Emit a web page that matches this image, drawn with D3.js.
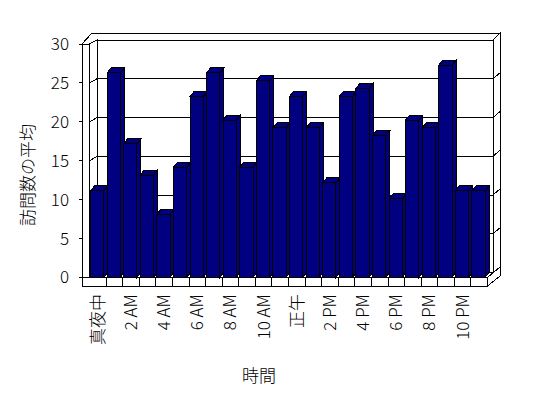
<!DOCTYPE html>
<html>
<head>
<meta charset="UTF-8">
<script src="https://d3js.org/d3.v7.min.js"></script>
<style>
  body { margin: 0; background: #fff; }
  text { font-family: "Noto Sans CJK JP", "Noto Sans", sans-serif; font-weight: 300; fill: #000; }
  path { shape-rendering: crispEdges; }
</style>
</head>
<body>
<svg width="548" height="398"></svg>
<script>
// hours of the day (every other one gets a label)
const categories = ["真夜中", "1 AM", "2 AM", "3 AM", "4 AM", "5 AM", "6 AM", "7 AM", "8 AM", "9 AM", "10 AM", "11 AM",
  "正午", "1 PM", "2 PM", "3 PM", "4 PM", "5 PM", "6 PM", "7 PM", "8 PM", "9 PM", "10 PM", "11 PM"];
const values = [11, 26, 17, 13, 8, 14, 23, 26, 20, 14, 25, 19, 23, 19, 12, 23, 24, 18, 10, 20, 19, 27, 11, 11];
const yTicks = [0, 5, 10, 15, 20, 25, 30];
const yTitle = "訪問数の平均";
const xTitle = "時間";

const svg = d3.select("svg");

// box geometry (3d walls)
const leftOuter = 82, leftInner = 89.5, backLeft = 97, backRight = 493, outerRight = 500;
const topOuter = 33, floorBottom = 286;

const x = d3.scaleBand().domain(categories).range([89.5, 487.5]);
const yFront = d3.scaleLinear().domain([0, 30]).range([277.5, 44]);
const yBack = d3.scaleLinear().domain([0, 30]).range([272.5, 40]);
const yBar = d3.scaleLinear().domain([0, 30]).range([277.3, 41.5]);

const poly = pts => "M" + pts.map(p => p.join(",")).join("L") + "Z";
const line = d3.line();

const walls = svg.append("g").attr("fill", "#fff").attr("stroke", "#000").attr("stroke-width", 1);
// top edges of walls
walls.append("path").attr("d", poly([[leftOuter, yFront(30)], [92, topOuter], [outerRight, topOuter],
  [backRight, yBack(30)], [backLeft, yBack(30)], [leftInner, yFront(30)]]));
// left wall front edge
walls.append("path").attr("d", poly([[leftOuter, yFront(30)], [leftInner, yFront(30)], [leftInner, yFront(0)], [leftOuter, yFront(0)]]));
// left wall inner face
walls.append("path").attr("d", poly([[leftInner, yFront(30)], [backLeft, yBack(30)], [backLeft, yBack(0)], [leftInner, yFront(0)]]));
// back wall
walls.append("path").attr("d", poly([[backLeft, yBack(30)], [backRight, yBack(30)], [backRight, yBack(0)], [backLeft, yBack(0)]]));
// back wall right side
walls.append("path").attr("d", poly([[backRight, yBack(30)], [outerRight, topOuter], [outerRight, 267], [backRight, yBack(0)]]));

// gridlines
const grid = svg.append("g").attr("stroke", "#000").attr("fill", "none");
yTicks.filter(v => v > 0 && v < 30).forEach(v => {
  grid.append("path").attr("d", line([[leftInner, yFront(v)], [backLeft, yBack(v)], [backRight, yBack(v)], [outerRight, yBack(v) - 6]]));
});
yTicks.forEach(v => {
  grid.append("path").attr("d", line([[78.5, yFront(v)], [leftOuter, yFront(v)]]));
});

// floor
const floor = svg.append("g").attr("fill", "#fff").attr("stroke", "#000");
floor.append("path").attr("d", poly([[leftInner, yFront(0)], [backLeft, yBack(0)], [backRight, yBack(0)], [487.5, yFront(0)]]));
floor.append("path").attr("d", poly([[leftOuter, yFront(0)], [487.5, yFront(0)], [487.5, floorBottom], [leftOuter, floorBottom]]));
floor.append("path").attr("d", poly([[487.5, yFront(0)], [outerRight, 267], [outerRight, 276], [487.5, floorBottom]]));
categories.slice(1).forEach(c => {
  floor.append("path").attr("d", line([[x(c), yFront(0)], [x(c), floorBottom]]));
});

// bars
const bw = x.bandwidth() * 0.8, dx = 4, dy = -5;
const bars = svg.append("g").attr("fill", "#000080").attr("stroke", "#000");
categories.forEach((c, i) => {
  const x0 = x(c) + 1, x1 = x0 + bw, top = yBar(values[i]), base = yBar(0);
  const g = bars.append("g");
  g.append("path").attr("d", poly([[x1, top], [x1 + dx, top + dy], [x1 + dx, base + dy], [x1, base]]));
  g.append("path").attr("d", poly([[x0, top], [x0 + dx, top + dy], [x1 + dx, top + dy], [x1, top]]));
  g.append("path").attr("d", poly([[x0, top], [x1, top], [x1, base], [x0, base]]));
});

// y tick labels
svg.append("g").selectAll("text").data(yTicks).join("text")
  .attr("x", 69).attr("y", d => yFront(d)).attr("dy", "0.35em")
  .attr("text-anchor", "end").attr("font-size", 17).text(d => d);

// x tick labels, rotated
svg.append("g").selectAll("text").data(categories.filter((c, i) => i % 2 === 0)).join("text")
  .attr("transform", d => `translate(${x(d) + x.bandwidth() / 2},294) rotate(-90)`)
  .attr("dy", "0.35em").attr("text-anchor", "end").attr("font-size", 17).text(d => d);

// axis titles
svg.append("text").attr("transform", "translate(28,175) rotate(-90)")
  .attr("dy", "0.35em").attr("text-anchor", "middle").attr("font-size", 17).text(yTitle);
svg.append("text").attr("x", 259).attr("y", 376).attr("dy", "0.35em")
  .attr("text-anchor", "middle").attr("font-size", 17).text(xTitle);
</script>
</body>
</html>
